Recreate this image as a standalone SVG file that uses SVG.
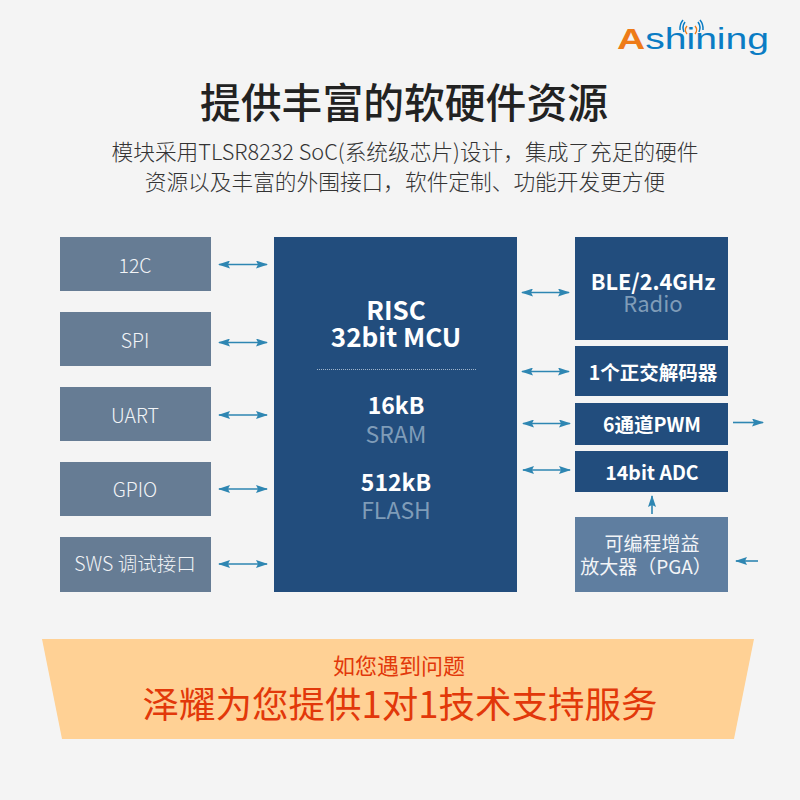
<svg xmlns="http://www.w3.org/2000/svg" width="800" height="800" viewBox="0 0 800 800">
<style>
text{font-family:"Noto Sans CJK SC","Noto Sans",sans-serif;text-anchor:middle}
.side{fill:#667c94}.core{fill:#224d7d}.pga{fill:#5f7ea0}
.lt{font-size:19.500px;fill:#f2f4f7;font-weight:300}
.rt{font-size:19.500px;fill:#fff;font-weight:700}
.big{font-size:26px;fill:#fff;font-weight:700}
.dim{font-size:23px;fill:#7f9cb8;font-weight:400}
.val{font-size:23px;fill:#fff;font-weight:700}
.sub{font-size:21.700px;fill:#333;font-weight:300}
.pg{font-size:19px;fill:#f2f4f7}
.c{stroke:#2e86b2;stroke-width:1.600;fill:none}
.d{marker-start:url(#ah);marker-end:url(#ah)}
.s{marker-end:url(#ah)}
</style>
<defs>
<marker id="ah" viewBox="0 0 12 8" refX="11" refY="4" markerUnits="userSpaceOnUse" markerWidth="12" markerHeight="8" orient="auto-start-reverse"><path d="M0 0L12 4L0 8L2 4Z" fill="#2e86b2"/></marker>
</defs>
<rect width="800" height="800" fill="#f4f4f4"/>
<g id="logo">
<text x="693" y="49" style="font-family:'Liberation Sans',sans-serif;font-size:29px;font-weight:400" fill="#0a7cc4" textLength="152" lengthAdjust="spacingAndGlyphs"><tspan fill="#ee7b18" font-weight="700">A</tspan>shining</text>
<g fill="none" stroke-width="1.500">
<path d="M687 34a6 6 0 0 1 0 -8M695 26a6 6 0 0 1 0 8" stroke="#ee7b18"/>
<path d="M684 32a10 10 0 0 1 1 -10M698 22a10 10 0 0 1 1 10" stroke="#0a7cc4"/>
<path d="M680 30a14 14 0 0 1 3 -10M700 20a14 14 0 0 1 3 10" stroke="#0a7cc4"/>
</g>
</g>
<g id="title">
<text x="404" y="118" font-size="40.800" font-weight="500" fill="#222">提供丰富的软硬件资源</text>
<text class="sub" x="405" y="160">模块采用TLSR8232 SoC(系统级芯片)设计，集成了充足的硬件</text>
<text class="sub" x="405" y="190">资源以及丰富的外围接口，软件定制、功能开发更方便</text>
</g>
<g id="node-i2c"><rect class="side" x="60" y="237" width="151" height="54"/><text class="lt" x="135" y="273">12C</text></g>
<g id="node-spi"><rect class="side" x="60" y="312" width="151" height="54"/><text class="lt" x="135" y="348">SPI</text></g>
<g id="node-uart"><rect class="side" x="60" y="387" width="151" height="54"/><text class="lt" x="135" y="423">UART</text></g>
<g id="node-gpio"><rect class="side" x="60" y="462" width="151" height="54"/><text class="lt" x="135" y="497">GPIO</text></g>
<g id="node-sws"><rect class="side" x="60" y="537" width="151" height="55"/><text class="lt" x="135" y="571">SWS 调试接口</text></g>
<g id="node-mcu">
<rect class="core" x="274" y="237" width="243" height="355"/>
<text class="big" x="396" y="320">RISC</text>
<text class="big" x="396" y="347">32bit MCU</text>
<line x1="317" y1="369.500" x2="476" y2="369.500" stroke="#9fb4cb" stroke-width="1" stroke-dasharray="1 1"/>
<text class="val" x="396" y="414">16kB</text>
<text class="dim" x="396" y="443">SRAM</text>
<text class="val" x="396" y="491">512kB</text>
<text class="dim" x="396" y="519">FLASH</text>
</g>
<g id="node-ble"><rect class="core" x="575" y="237" width="153" height="103"/><text class="rt" x="653" y="290" style="font-size:21.700px">BLE/2.4GHz</text><text class="dim" x="653" y="312" style="font-size:22px">Radio</text></g>
<g id="node-qdec"><rect class="core" x="575" y="346" width="153" height="50"/><text class="rt" x="653" y="380">1个正交解码器</text></g>
<g id="node-pwm"><rect class="core" x="575" y="403" width="153" height="42"/><text class="rt" x="652" y="432">6通道PWM</text></g>
<g id="node-adc"><rect class="core" x="575" y="451" width="153" height="41"/><text class="rt" x="652" y="480">14bit ADC</text></g>
<g id="node-pga"><rect class="pga" x="575" y="517" width="153" height="75"/><text class="pg" x="652" y="551">可编程增益</text><text class="pg" x="646" y="574">放大器（PGA）</text></g>
<g id="connectors">
<line class="c d" x1="219" y1="264.500" x2="267" y2="264.500"/>
<line class="c d" x1="219" y1="342.500" x2="267" y2="342.500"/>
<line class="c d" x1="219" y1="415" x2="267" y2="415"/>
<line class="c d" x1="219" y1="489" x2="267" y2="489"/>
<line class="c d" x1="219" y1="564" x2="267" y2="564"/>
<line class="c d" x1="522" y1="292.500" x2="569" y2="292.500"/>
<line class="c d" x1="522" y1="371.500" x2="569" y2="371.500"/>
<line class="c d" x1="523" y1="423.500" x2="570" y2="423.500"/>
<line class="c d" x1="523" y1="470" x2="570" y2="470"/>
<line class="c s" x1="733" y1="422.500" x2="763" y2="422.500"/>
<line class="c s" x1="652" y1="514" x2="652" y2="496"/>
<line class="c s" x1="758" y1="561" x2="736" y2="561"/>
</g>
<g id="banner">
<polygon points="42,639 754,639 734,739 62,739" fill="#ffd195"/>
<text x="399" y="674" font-size="22" fill="#e2380a">如您遇到问题</text>
<text x="400" y="718" font-size="36.500" font-weight="400" fill="#e2380a">泽耀为您提供1对1技术支持服务</text>
</g>
</svg>
